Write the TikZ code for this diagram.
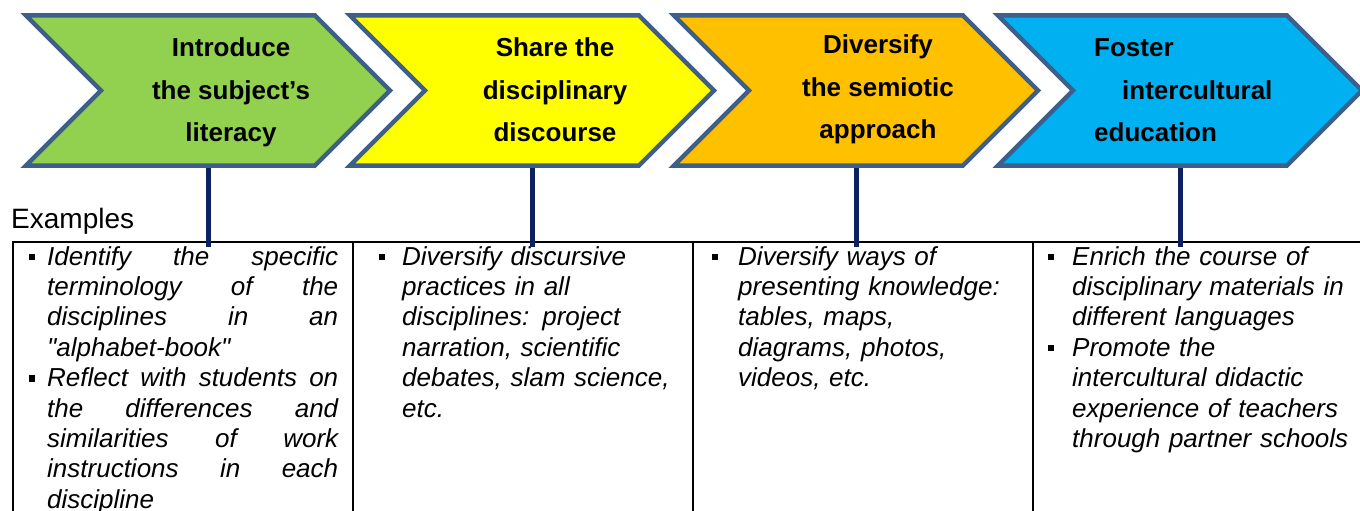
\documentclass[tikz,border=0pt]{standalone}
\usepackage{fontspec}
\setmainfont{Liberation Sans}
\newfontfamily\rawquote{Liberation Sans}
\usetikzlibrary{positioning,shapes.symbols}
\definecolor{chevedge}{HTML}{3E5F8A}
\definecolor{chevgreen}{HTML}{92D050}
\definecolor{chevyellow}{HTML}{FFFF00}
\definecolor{chevorange}{HTML}{FFC000}
\definecolor{chevblue}{HTML}{00B0F0}
\definecolor{stemnavy}{HTML}{0A2260}
\newcommand{\bulletsq}[1][14pt]{\leavevmode\llap{\rule[5pt]{6.5pt}{6.5pt}\hspace{#1}}}
\newcommand{\dq}{{\rawquote\itshape"}}
\tikzset{
  chevron/.style={signal,signal from=west,signal to=east,signal pointer angle=90,draw=chevedge,line width=4.5pt,minimum width=364pt,minimum height=150pt,inner sep=0pt},
  chevtext/.style={font=\bfseries\fontsize{26}{42.5}\selectfont,align=center,inner sep=0pt},
  cell/.style={draw=black,line width=1.6pt,minimum width=340pt,minimum height=320pt,anchor=north west,inner sep=0pt},
  example/.style={font=\itshape\fontsize{26}{30.4}\selectfont,align=left,anchor=north west,inner sep=0pt},
  stem/.style={draw=stemnavy,line width=5pt,shorten >=-6pt}
}
\begin{document}
\begin{tikzpicture}[x=1pt,y=-1pt]
  \useasboundingbox (0,0) rectangle (1360,511);
  \clip (0,0) rectangle (1360,511);

  % chevrons
  \node[chevron,fill=chevgreen] (lit) at (208,90.5) {};
  \node[chevron,fill=chevyellow] (disc) at (532,90.5) {};
  \node[chevron,fill=chevorange] (semio) at (856,90.5) {};
  \node[chevron,fill=chevblue] (inter) at (1180,90.5) {};

  \node[chevtext,xshift=23pt] (lit-txt) at (lit.center) {\strut Introduce\\the subject’s\\literacy\strut};
  \node[chevtext,xshift=23pt] (disc-txt) at (disc.center) {\strut Share the\\disciplinary\\discourse\strut};
  \node[chevtext,xshift=22pt,yshift=3pt] (semio-txt) at (semio.center) {\strut Diversify\\the semiotic\\approach\strut};
  \node[chevtext,align=left,anchor=west] (inter-txt) at (1094,90.5) {\strut Foster\\\hspace*{28pt}intercultural\\education\strut};

  % table
  \node[anchor=base west,font=\fontsize{28}{30}\selectfont,inner sep=0pt] (exlabel) at (11,228) {Examples};
  \node[cell] (lit-cell) at (12,241) {};
  \node[cell] (disc-cell) at (352,241) {};
  \node[cell] (semio-cell) at (692,241) {};
  \node[cell] (inter-cell) at (1032,241) {};

  \node[example,text width=291pt] (lit-ex) at (47,243.7) {\strut\bulletsq[12pt]Identify\hfill the\hfill specific\\
    terminology\hfill of\hfill the\\
    disciplines\hfill in\hfill an\\
    \dq alphabet-book\dq\\
    \bulletsq[12pt]Reflect\hfill with\hfill students\hfill on\\
    the\hfill differences\hfill and\\
    similarities\hfill of\hfill work\\
    instructions\hfill in\hfill each\\
    discipline};
  \node[example,text width=285pt] (disc-ex) at (402,243.7) {\strut\bulletsq[17pt]Diversify discursive\\
    practices in all\\
    disciplines: project\\
    narration, scientific\\
    debates, slam science,\\
    etc.};
  \node[example,text width=285pt] (semio-ex) at (738,243.7) {\strut\bulletsq[20pt]Diversify ways of\\
    presenting knowledge:\\
    tables, maps,\\
    diagrams, photos,\\
    videos, etc.};
  \node[example,text width=290pt] (inter-ex) at (1072,243.7) {\strut\bulletsq[18pt]Enrich the course of\\
    disciplinary materials in\\
    different languages\\
    \bulletsq[18pt]Promote the\\
    intercultural didactic\\
    experience of teachers\\
    through partner schools};

  % stems
  \draw[stem] (lit.south) -- (lit.south |- lit-cell.north);
  \draw[stem] (disc.south) -- (disc.south |- disc-cell.north);
  \draw[stem] (semio.south) -- (semio.south |- semio-cell.north);
  \draw[stem] (inter.south) -- (inter.south |- inter-cell.north);
\end{tikzpicture}
\end{document}
